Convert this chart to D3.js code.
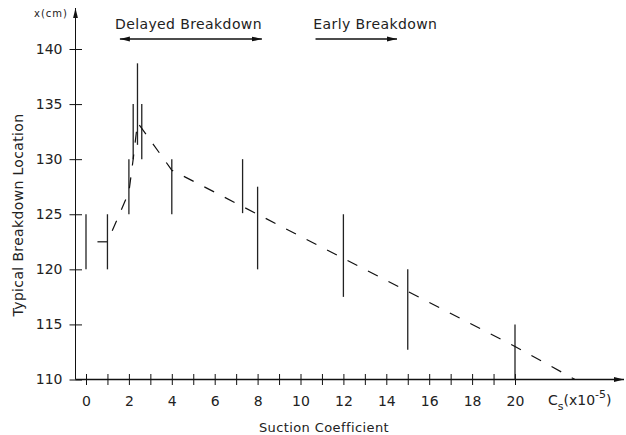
<!DOCTYPE html>
<html>
<head>
<meta charset="utf-8">
<script src="https://cdn.jsdelivr.net/npm/d3@7"></script>
<style>
  body { margin: 0; background: #fff; }
  text { font-family: "DejaVu Sans", sans-serif; fill: #222; }
</style>
</head>
<body>
<div id="chart"></div>
<script>
// measured ranges of breakdown location for each suction coefficient
const suction = [0, 1, 2, 2.2, 2.4, 2.6, 4, 7.3, 8, 12, 15, 20];
const locLow = [120, 120, 125, 130, 131.3, 130, 125, 125.1, 120, 117.5, 112.7, 110];
const locHigh = [125, 125, 130, 135, 138.7, 135, 130, 130, 127.5, 125, 120, 115];

// typical (mean) curve, dashed
const trendX = [1, 2, 2.2, 2.4, 2.6, 4, 8, 12, 15, 20, 22.8];
const trendY = [122.5, 127, 130, 133.3, 132.8, 129, 125, 121, 118, 113, 110];

// mean tick drawn on the Cs = 1 bar
const meanTickX = [1];
const meanTickY = [122.5];

const xTicks = [0, 1, 2, 3, 4, 5, 6, 7, 8, 9, 10, 11, 12, 13, 14, 15, 16, 17, 18, 19, 20];
const xLabels = [0, 2, 4, 6, 8, 10, 12, 14, 16, 18, 20];
const yTicks = [110, 115, 120, 125, 130, 135, 140];

// annotation arrows (in Cs units)
const notes = [
  { text: 'Delayed Breakdown', from: 1.58, to: 8.2, textX: 1.35, both: true },
  { text: 'Early Breakdown', from: 10.7, to: 14.5, textX: 10.6, both: false },
];

const width = 626;
const height = 435;

const svg = d3.select('#chart')
  .append('svg')
  .attr('width', width)
  .attr('height', height);

const xScale = d3.scaleLinear().domain([0, 20]).range([86, 515]);
const yScale = d3.scaleLinear().domain([110, 140]).range([379.5, 49]);

const axisX = 75.5;
const axisY = yScale(110);

// arrowheads
const defs = svg.append('defs');
defs.append('marker')
  .attr('id', 'head')
  .attr('viewBox', '0 0 10 6')
  .attr('refX', 10)
  .attr('refY', 3)
  .attr('markerWidth', 10)
  .attr('markerHeight', 6)
  .attr('markerUnits', 'userSpaceOnUse')
  .attr('orient', 'auto-start-reverse')
  .append('path')
  .attr('d', 'M0,0.6 L10,3 L0,5.4 Z')
  .attr('fill', '#111');

// x axis line with arrow
svg.append('line')
  .attr('x1', axisX).attr('x2', 624)
  .attr('y1', axisY).attr('y2', axisY)
  .attr('stroke', '#111')
  .attr('stroke-width', 1.5)
  .attr('marker-end', 'url(#head)');

// y axis line with arrow
svg.append('line')
  .attr('x1', axisX).attr('x2', axisX)
  .attr('y1', axisY).attr('y2', 8)
  .attr('stroke', '#111')
  .attr('stroke-width', 1)
  .attr('marker-end', 'url(#head)');

// x ticks
const gx = svg.append('g')
  .attr('transform', `translate(0, ${axisY})`)
  .call(d3.axisBottom(xScale)
    .tickValues(xTicks)
    .tickSize(6)
    .tickPadding(11)
    .tickFormat((d) => (xLabels.includes(d) ? d : '')));
gx.select('.domain').remove();
gx.selectAll('.tick line').attr('y1', -5.5).attr('y2', 5.5).attr('stroke', '#111');
gx.selectAll('.tick text')
  .style('font-size', '14px')
  .style('font-family', '"DejaVu Sans", sans-serif')
  .attr('fill', '#222');

// y ticks
const gy = svg.append('g')
  .attr('transform', `translate(${axisX}, 0)`)
  .call(d3.axisLeft(yScale)
    .tickValues(yTicks)
    .tickSize(6)
    .tickPadding(7));
gy.select('.domain').remove();
gy.selectAll('.tick line').attr('x1', -6).attr('x2', 6.5).attr('stroke', '#111');
gy.selectAll('.tick text')
  .style('font-size', '14px')
  .style('font-family', '"DejaVu Sans", sans-serif')
  .attr('fill', '#222');

// range bars
svg.append('g')
  .selectAll('line')
  .data(suction)
  .join('line')
  .attr('x1', (d) => xScale(d))
  .attr('x2', (d) => xScale(d))
  .attr('y1', (d, i) => yScale(locLow[i]))
  .attr('y2', (d, i) => yScale(locHigh[i]))
  .attr('stroke', '#222')
  .attr('stroke-width', 1.3);

// mean ticks
svg.append('g')
  .selectAll('line')
  .data(meanTickX)
  .join('line')
  .attr('x1', (d) => xScale(d) - 10)
  .attr('x2', (d) => xScale(d))
  .attr('y1', (d, i) => yScale(meanTickY[i]))
  .attr('y2', (d, i) => yScale(meanTickY[i]))
  .attr('stroke', '#222')
  .attr('stroke-width', 1.3);

// dashed typical curve
const trend = d3.line()
  .x((d) => xScale(d))
  .y((d, i) => yScale(trendY[i]));

svg.append('path')
  .attr('d', trend(trendX))
  .attr('fill', 'none')
  .attr('stroke', '#111')
  .attr('stroke-width', 1.2)
  .attr('stroke-dasharray', '11,12')
  .attr('stroke-dashoffset', -12);

// annotations
notes.forEach((n) => {
  svg.append('text')
    .attr('x', xScale(n.textX))
    .attr('y', 29)
    .style('font-size', '14px')
    .style('letter-spacing', '0.4px')
    .text(n.text);

  const arrow = svg.append('line')
    .attr('x1', xScale(n.from)).attr('x2', xScale(n.to))
    .attr('y1', 39).attr('y2', 39)
    .attr('stroke', '#111')
    .attr('stroke-width', 1.5)
    .attr('marker-end', 'url(#head)');
  if (n.both) arrow.attr('marker-start', 'url(#head)');
});

// axis titles
svg.append('text')
  .attr('x', 51)
  .attr('y', 17)
  .attr('text-anchor', 'middle')
  .style('font-size', '10px')
  .style('letter-spacing', '1px')
  .text('x(cm)');

svg.append('text')
  .attr('transform', 'translate(23, 215) rotate(-90)')
  .attr('text-anchor', 'middle')
  .style('font-size', '14px')
  .style('letter-spacing', '0.35px')
  .text('Typical Breakdown Location');

svg.append('text')
  .attr('x', 324)
  .attr('y', 432)
  .attr('text-anchor', 'middle')
  .style('font-size', '13px')
  .style('letter-spacing', '0.4px')
  .text('Suction Coefficient');

const cs = svg.append('text')
  .attr('x', 548)
  .attr('y', 405)
  .style('font-size', '14px');
cs.append('tspan').text('C');
cs.append('tspan').attr('dy', 5).style('font-size', '11px').text('s');
cs.append('tspan').attr('dy', -5).text('(x10');
cs.append('tspan').attr('dy', -7).style('font-size', '11px').text('-5');
cs.append('tspan').attr('dy', 7).text(')');
</script>
</body>
</html>
